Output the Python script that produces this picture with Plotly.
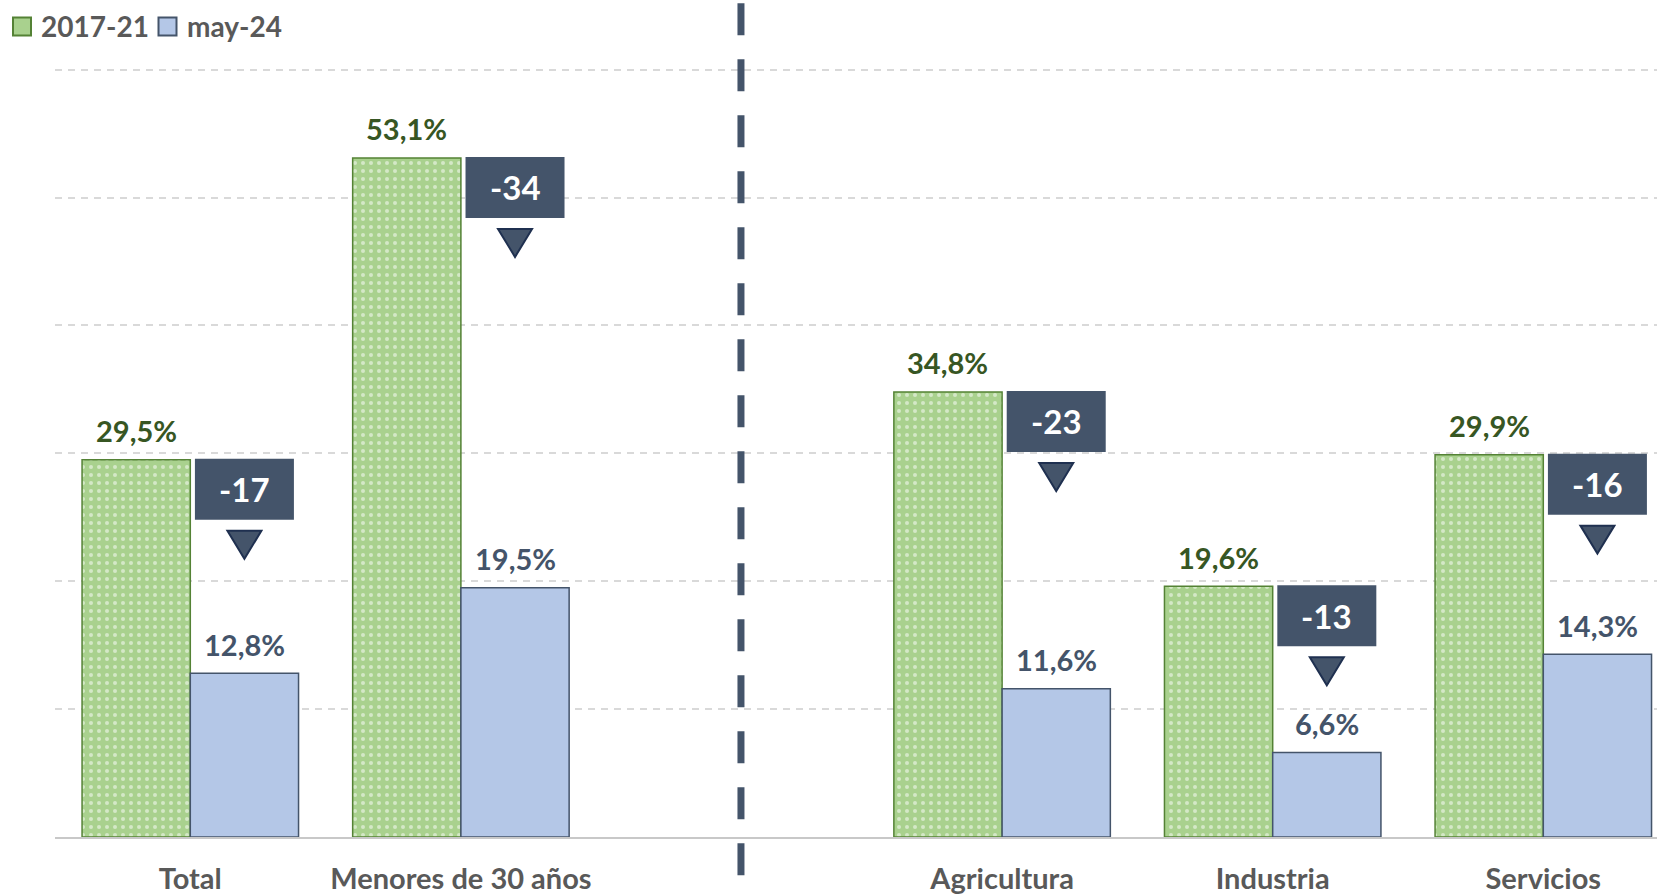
import plotly.graph_objects as go

# ---- data ----
categories = ["Total", "Menores de 30 años", "Agricultura", "Industria", "Servicios"]
series_names = ["2017-21", "may-24"]
values_2017_21 = [29.5, 53.1, 34.8, 19.6, 29.9]
values_may_24 = [12.8, 19.5, 11.6, 6.6, 14.3]
change_labels = ["-17", "-34", "-23", "-13", "-16"]

# ---- layout constants ----
W, H = 1657, 894
ML, MR, MT, MB = 55, 0, 55, 57
PLOT_W = W - ML - MR
PLOT_H = H - MT - MB
CAT_PX = 270.6
XMIN = -0.5
XMAX = XMIN + PLOT_W / CAT_PX
YMAX = 61.15
PXX = PLOT_W / (XMAX - XMIN)
PXY = PLOT_H / YMAX

FONT = "Lato"
GREEN_FILL = "#a9d18e"
GREEN_LINE = "#548235"
GREEN_TXT = "#375623"
BLUE_FILL = "#b4c7e7"
SLATE = "#44546a"
GRAY_TXT = "#595959"

# positions: a blank slot separates the first two groups from the sectors
xpos = [i if i < 2 else i + 1 for i in range(len(categories))]

fmt = lambda v: f"{v:.1f}".replace(".", ",") + "%"
px_x = lambda p: (p - ML) / PLOT_W          # page pixel -> paper x
px_y = lambda p: (H - MB - p) / PLOT_H      # page pixel -> paper y

fig = go.Figure()
fig.add_trace(go.Bar(
    x=xpos, y=values_2017_21, name=series_names[0],
    marker=dict(color=GREEN_FILL,
                line=dict(color=GREEN_LINE, width=1.5),
                pattern=dict(shape=".", fgcolor="white", bgcolor=GREEN_FILL,
                             size=8, solidity=0.2, fillmode="overlay")),
    hoverinfo="skip", showlegend=False,
))
fig.add_trace(go.Bar(
    x=xpos, y=values_may_24, name=series_names[1],
    marker=dict(color=BLUE_FILL, line=dict(color=SLATE, width=1.5)),
    hoverinfo="skip", showlegend=False,
))

annotations = []
shapes = []
for xc, g, b, ch in zip(xpos, values_2017_21, values_may_24, change_labels):
    xg = xc - 0.2
    xb = xc + 0.2
    annotations.append(dict(x=xg, y=g, text=fmt(g), showarrow=False, yanchor="middle",
                            yshift=29, font=dict(family=FONT, size=29, color=GREEN_TXT, weight="bold")))
    annotations.append(dict(x=xb, y=b, text=fmt(b), showarrow=False, yanchor="middle",
                            yshift=29, font=dict(family=FONT, size=29, color=SLATE, weight="bold")))
    # change box
    y1 = g + 1 / PXY
    y0 = y1 - 61 / PXY
    half = 49.5 / PXX
    shapes.append(dict(type="rect", xref="x", yref="y", x0=xb - half, x1=xb + half,
                       y0=y0, y1=y1, fillcolor=SLATE, line=dict(width=0), layer="above"))
    annotations.append(dict(x=xb, y=y1 - 30.5 / PXY, text=ch, showarrow=False, yanchor="middle",
                            font=dict(family=FONT, size=33, color="white", weight="bold")))
    # down triangle
    ttop = y0 - 11 / PXY
    tbot = ttop - 28 / PXY
    tw = 17 / PXX
    shapes.append(dict(type="path", xref="x", yref="y",
                       path=f"M {xb - tw} {ttop} L {xb + tw} {ttop} L {xb} {tbot} Z",
                       fillcolor=SLATE, line=dict(color="#1f3050", width=2), layer="above"))

# vertical dashed separator
shapes.append(dict(type="line", xref="x", yref="paper", x0=2.035, x1=2.035,
                   y0=px_y(3.3), y1=px_y(876),
                   line=dict(color=SLATE, width=7, dash="32px,24px"), layer="above"))

# legend (swatches + labels) at top-left
legend_items = [(series_names[0], GREEN_FILL, GREEN_LINE, 13, 39),
                (series_names[1], BLUE_FILL, SLATE, 158.5, 185)]
for name, fill, line, sx, tx in legend_items:
    shapes.append(dict(type="rect", xref="paper", yref="paper",
                       x0=px_x(sx), x1=px_x(sx + 18), y0=px_y(17.5), y1=px_y(35.5),
                       fillcolor=fill, line=dict(color=line, width=2)))
    annotations.append(dict(xref="paper", yref="paper", x=px_x(tx), y=px_y(26.5),
                            xanchor="left", yanchor="middle", text=name, showarrow=False,
                            font=dict(family=FONT, size=28, color=GRAY_TXT, weight="bold")))

fig.update_layout(
    width=W, height=H,
    margin=dict(l=ML, r=MR, t=MT, b=MB, pad=0, autoexpand=False),
    plot_bgcolor="white", paper_bgcolor="white",
    barmode="group", bargap=0.2, bargroupgap=0,
    showlegend=False,
    xaxis=dict(range=[XMIN, XMAX], tickvals=xpos, ticktext=categories,
               tickfont=dict(family=FONT, size=29, color=GRAY_TXT, weight="bold"),
               showgrid=False, zeroline=False, showline=True, linecolor="#c8c8c8",
               linewidth=2, ticks="", ticklabelstandoff=15, fixedrange=True,
               automargin=False),
    yaxis=dict(range=[0, YMAX], tick0=0, dtick=10, showticklabels=False,
               showgrid=True, gridcolor="#d9d9d9", gridwidth=1.5, griddash="7px,6px",
               zeroline=False, showline=False, fixedrange=True, automargin=False),
    annotations=annotations,
    shapes=shapes,
)

fig.write_html("out.html", config={"displayModeBar": False},
               post_script="document.body.style.margin='0';document.body.style.overflow='hidden';")
